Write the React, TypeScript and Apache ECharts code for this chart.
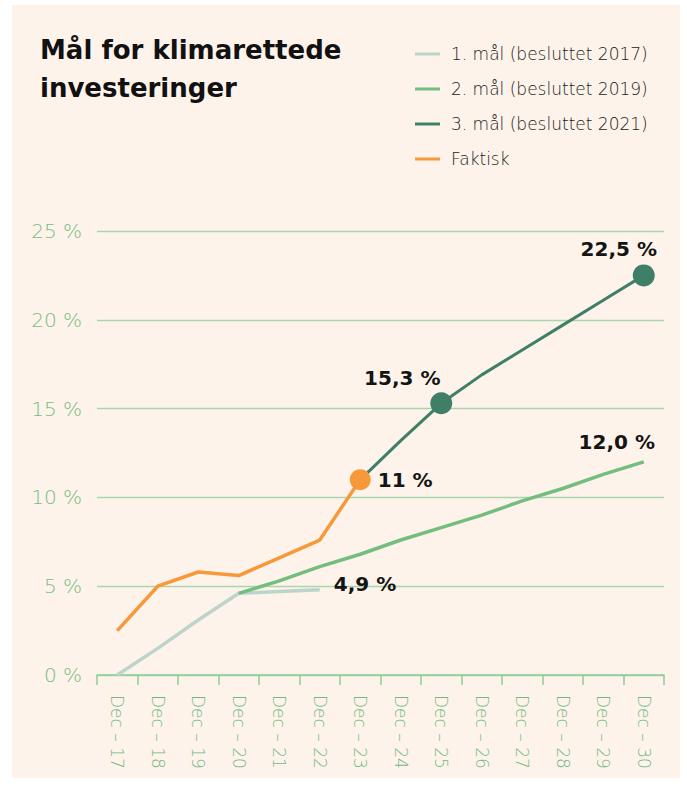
import React, { useEffect, useRef } from "react";
import * as echarts from "echarts";

const categories = [
  "Dec – 17", "Dec – 18", "Dec – 19", "Dec – 20", "Dec – 21", "Dec – 22", "Dec – 23",
  "Dec – 24", "Dec – 25", "Dec – 26", "Dec – 27", "Dec – 28", "Dec – 29", "Dec – 30",
];
const yTicks = [0, 5, 10, 15, 20, 25];

const goal1 = [0, 1.5, 3.1, 4.6, 4.7, 4.8, null, null, null, null, null, null, null, null];
const goal2 = [null, null, null, 4.6, 5.3, 6.1, 6.8, 7.6, 8.3, 9.0, 9.8, 10.5, 11.3, 12.0];
const goal3 = [null, null, null, null, null, null, 11.0, 13.2, 15.3, 16.9, 18.3, 19.7, 21.1, 22.5];
const actual = [2.5, 5.0, 5.8, 5.6, 6.6, 7.6, 11.0, null, null, null, null, null, null, null];

const seriesNames = [
  "1. mål (besluttet 2017)",
  "2. mål (besluttet 2019)",
  "3. mål (besluttet 2021)",
  "Faktisk",
];
const titleLines = ["Mål for klimarettede", "investeringer"];
// annotation texts: [seriesIndex, categoryIndex, text]
const annotations: [number, number, string][] = [
  [0, 5, "4,9 %"],
  [1, 13, "12,0 %"],
  [2, 8, "15,3 %"],
  [2, 13, "22,5 %"],
  [3, 6, "11 %"],
];
const markerPoints: [number, number][] = [
  [2, 8],
  [2, 13],
  [3, 6],
];

const FONT = "'DejaVu Sans', sans-serif";
const colors = ["#bcd4c9", "#74bd80", "#3f7e67", "#f7983a"];

const labelStyles: Record<string, any> = {
  "0-5": { position: "right", distance: 13, offset: [0, -6] },
  "1-13": { position: "top", distance: 9, offset: [-27, 0] },
  "2-8": { position: "top", distance: 4, offset: [-39, 0] },
  "2-13": { position: "top", distance: 5, offset: [-25, 0] },
  "3-6": { position: "right", distance: 7, offset: [0, 0] },
};

function buildData(si: number, arr: (number | null)[]) {
  return arr.map((v, ci) => {
    if (v === null) return null;
    const ann = annotations.find((a) => a[0] === si && a[1] === ci);
    const marker = markerPoints.some((m) => m[0] === si && m[1] === ci);
    const item: any = { value: v };
    if (marker) {
      item.symbol = "circle";
      item.symbolSize = si === 3 ? 21 : 22;
    } else if (ann) {
      item.symbol = "circle";
      item.symbolSize = 2;
      item.itemStyle = { color: "rgba(0,0,0,0)" };
    }
    if (ann) {
      item.label = {
        show: true,
        formatter: ann[2],
        color: "#141414",
        fontSize: 20,
        fontWeight: "bold",
        fontFamily: FONT,
        ...labelStyles[`${si}-${ci}`],
      };
    }
    return item;
  });
}

export default function App() {
  const ref = useRef<HTMLDivElement>(null);
  useEffect(() => {
    if (!ref.current) return;
    const chart = echarts.init(ref.current, undefined, { renderer: "svg" });
    const all = [goal1, goal2, goal3, actual];
    chart.setOption({
      animation: false,
      backgroundColor: "#ffffff",
      graphic: [
        {
          type: "rect",
          z: -10,
          shape: { x: 12, y: 5, width: 668, height: 773 },
          style: { fill: "#fdf3ea" },
        },
        {
          type: "text",
          left: 40,
          top: 31,
          style: {
            text: titleLines.join("\n"),
            fontSize: 26,
            fontWeight: "bold",
            lineHeight: 38,
            fill: "#111111",
            fontFamily: FONT,
          },
        },
      ],
      legend: {
        orient: "vertical",
        left: 410,
        top: 39,
        itemWidth: 25,
        itemHeight: 3,
        itemGap: 15,
        icon: "rect",
        data: seriesNames,
        textStyle: {
          fontSize: 17,
          fontWeight: 200,
          color: "#222222",
          fontFamily: FONT,
          lineHeight: 20,
          padding: [0, 0, 0, 6],
        },
      },
      grid: { left: 97, right: 23, top: 231, bottom: 110, containLabel: false },
      xAxis: {
        type: "category",
        data: categories,
        boundaryGap: true,
        axisLine: { lineStyle: { color: "#8fcc99", width: 1.5 } },
        axisTick: { show: true, length: 10, lineStyle: { color: "#8fcc99", width: 1.5 } },
        axisLabel: {
          rotate: -90,
          margin: 20,
          interval: 0,
          color: "#6fba80",
          fontSize: 17,
          fontWeight: 200,
          fontFamily: FONT,
        },
      },
      yAxis: {
        type: "value",
        min: yTicks[0],
        max: yTicks[yTicks.length - 1],
        interval: 5,
        axisLine: { show: false },
        axisTick: { show: false },
        splitLine: { lineStyle: { color: "#a9d6b0", width: 1.3 } },
        axisLabel: {
          formatter: "{value} %",
          color: "#74bd84",
          fontSize: 20,
          fontWeight: 200,
          margin: 15,
          fontFamily: FONT,
        },
      },
      series: all.map((arr, si) => ({
        name: seriesNames[si],
        type: "line",
        data: buildData(si, arr),
        color: colors[si],
        symbol: "none",
        showSymbol: true,
        connectNulls: false,
        lineStyle: { color: colors[si], width: si === 2 ? 3 : 3.5 },
        itemStyle: { color: colors[si] },
        z: si === 3 ? 5 : 3,
      })),
    });
    return () => chart.dispose();
  }, []);
  return (
    <div
      ref={ref}
      style={{ position: "absolute", left: 0, top: 0, width: 687, height: 785 }}
    />
  );
}
